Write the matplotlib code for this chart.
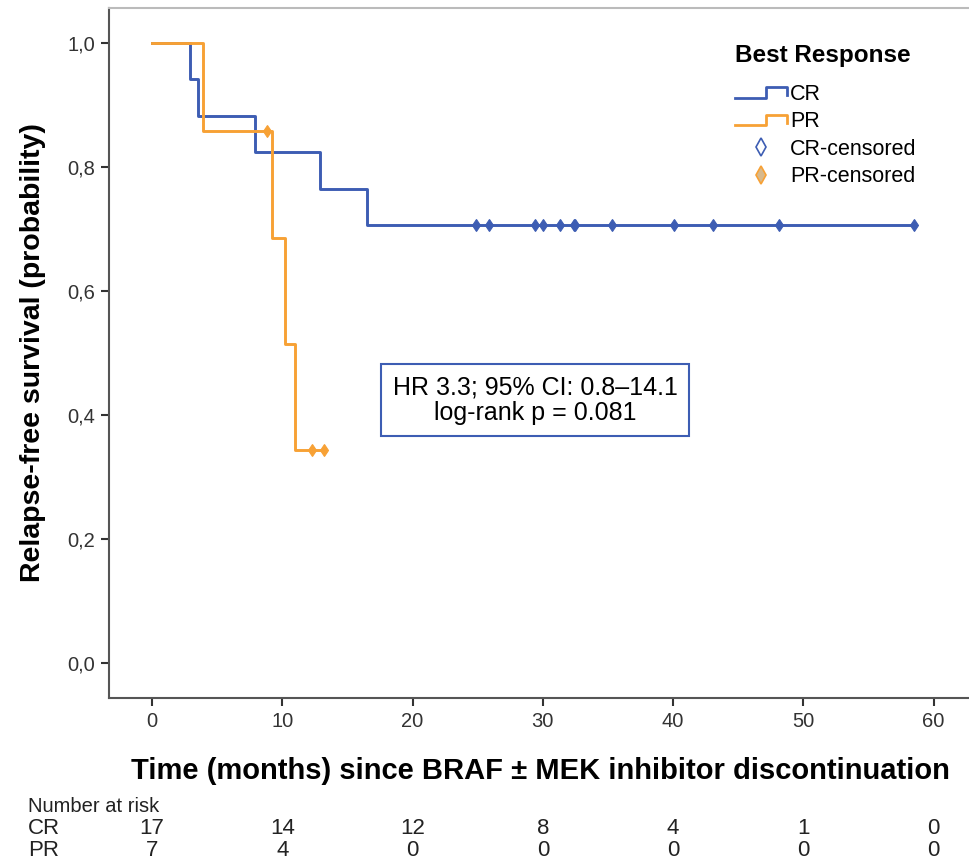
import matplotlib
matplotlib.use('Agg')
import matplotlib.pyplot as plt
from matplotlib.lines import Line2D
from matplotlib.legend_handler import HandlerBase

plt.rcParams['font.family'] = ['Liberation Sans', 'DejaVu Sans']

# Kaplan-Meier steps
cr_times = [0, 2.9, 3.5, 7.9, 12.9, 16.5, 58.5]
cr_surv = [1.0, 0.941, 0.882, 0.824, 0.765, 0.706, 0.706]
pr_times = [0, 3.9, 9.2, 10.2, 11.0, 13.3]
pr_surv = [1.0, 0.857, 0.686, 0.514, 0.343, 0.343]

# censored observations
cr_cens_t = [24.9, 25.9, 29.4, 30.0, 31.3, 32.4, 32.5, 35.3, 40.1, 43.1, 48.1, 58.5]
cr_cens_s = [0.706] * len(cr_cens_t)
pr_cens_t = [8.8, 12.3, 13.2]
pr_cens_s = [0.857, 0.343, 0.343]

# number at risk table
risk_times = [0, 10, 20, 30, 40, 50, 60]
risk_cr = [17, 14, 12, 8, 4, 1, 0]
risk_pr = [7, 4, 0, 0, 0, 0, 0]

blue = '#3d5db3'
orange = '#f7a135'


class StepHandler(HandlerBase):
    def create_artists(self, legend, orig, xd, yd, w, h, fontsize, trans):
        xs = [xd, xd + 0.6 * w, xd + 0.6 * w, xd + w, xd + w]
        ys = [yd + 0.15 * h, yd + 0.15 * h, yd + 0.85 * h, yd + 0.85 * h, yd + 0.3 * h]
        ln = Line2D(xs, ys, color=orig.get_color(), lw=2, transform=trans)
        return [ln]


fig = plt.figure(figsize=(9.69, 8.61), dpi=100)
ax = fig.add_axes([0.1125, 0.1893, 0.89, 0.8014])

ax.step(cr_times, cr_surv, where='post', color=blue, lw=2.1)
ax.step(pr_times, pr_surv, where='post', color=orange, lw=2.1)
ax.plot(cr_cens_t, cr_cens_s, ls='none', marker='d', ms=6, mew=0.8,
        color=blue, mfc=blue)
ax.plot(pr_cens_t, pr_cens_s, ls='none', marker='d', ms=6, mew=0.8,
        color=orange, mfc=orange)

ax.set_xlim(-3.3, 62.9)
ax.set_ylim(-0.056, 1.056)
ax.set_xticks(risk_times)
ax.set_yticks([0, 0.2, 0.4, 0.6, 0.8, 1.0])
ax.set_yticklabels(['0,0', '0,2', '0,4', '0,6', '0,8', '1,0'])
ax.tick_params(labelsize=14.5, colors='#333333', length=6, width=1.5, pad=4)
for s in ['left', 'bottom']:
    ax.spines[s].set_color('#555555')
    ax.spines[s].set_linewidth(1.5)
ax.spines['top'].set_color('#bbbbbb')
ax.spines['top'].set_linewidth(1.5)
ax.spines['right'].set_visible(False)

ax.set_xlabel('Time (months) since BRAF ± MEK inhibitor discontinuation',
              fontsize=21, fontweight='bold', labelpad=19)
ax.set_ylabel('Relapse-free survival (probability)', fontsize=20.5,
              fontweight='bold', labelpad=15)

ax.text(29.4, 0.424, 'HR 3.3; 95% CI: 0.8\u201314.1\nlog-rank p = 0.081',
        ha='center', va='center', fontsize=18, linespacing=1.05,
        bbox=dict(boxstyle='square,pad=0.45', fc='white', ec=blue, lw=1.5))

handles = [Line2D([], [], color=blue), Line2D([], [], color=orange),
           Line2D([], [], ls='none', marker='d', ms=9, color=blue, mfc='white', mew=1.2),
           Line2D([], [], ls='none', marker='d', ms=9, color=orange, mfc='#d8b98c', mew=1.2)]
leg = ax.legend(handles, ['CR', 'PR', 'CR-censored', 'PR-censored'],
                handler_map={handles[0]: StepHandler(), handles[1]: StepHandler()},
                title='Best Response', loc='upper left', bbox_to_anchor=(0.716, 0.96),
                frameon=False, fontsize=15.5, handlelength=2.4, handletextpad=0.15,
                labelspacing=0.3, borderaxespad=0)
leg.get_title().set_fontweight('bold')
leg.get_title().set_fontsize(17.5)
leg._legend_box.align = 'left'
leg._legend_box.sep = 12

# number at risk
fam = ['Liberation Sans Narrow', 'Liberation Sans']
fig.text(28 / 969, 1 - 806 / 861, 'Number at risk', fontsize=14.5, va='center',
         family=fam, color='#222222')
fig.text(28 / 969, 1 - 828 / 861, 'CR', fontsize=16, va='center',
         family=fam, color='#222222')
fig.text(28 / 969, 1 - 850 / 861, 'PR', fontsize=16, va='center',
         family=fam, color='#222222')
for t, a, b in zip(risk_times, risk_cr, risk_pr):
    xf = fig.transFigure.inverted().transform(ax.transData.transform((t, 0)))[0]
    fig.text(xf, 1 - 828 / 861, str(a), ha='center', va='center', fontsize=16,
             family=fam, color='#222222')
    fig.text(xf, 1 - 850 / 861, str(b), ha='center', va='center', fontsize=16,
             family=fam, color='#222222')

fig.savefig('out.png', dpi=100)
